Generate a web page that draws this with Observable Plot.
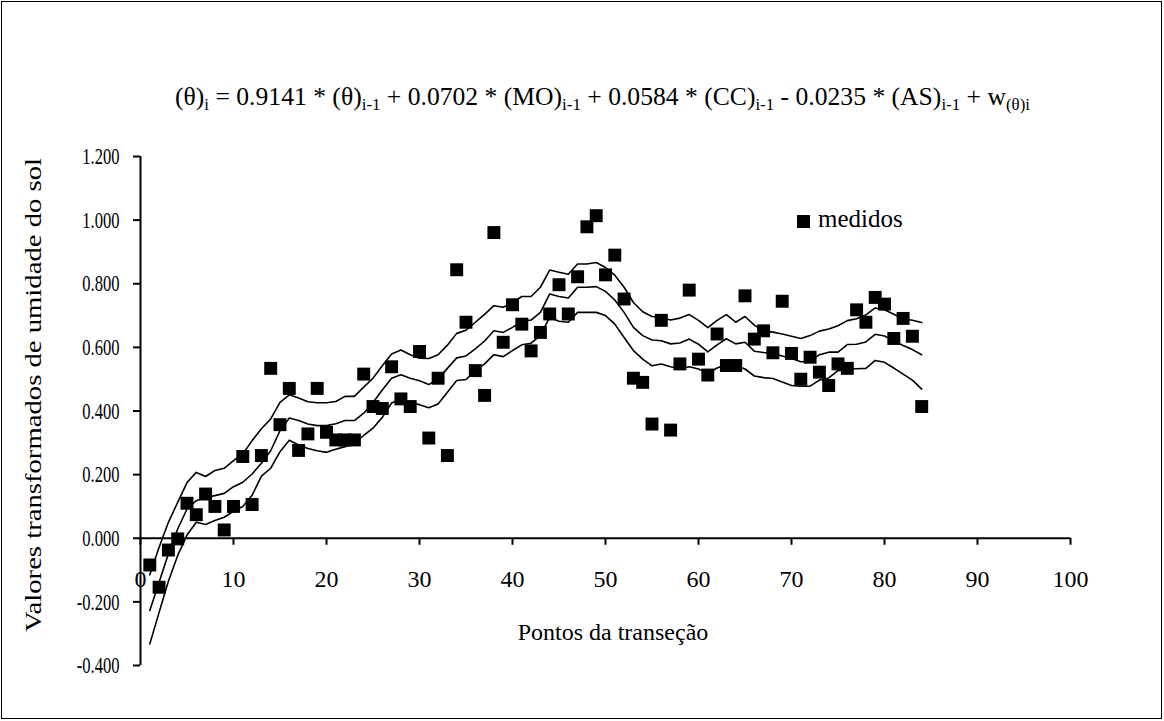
<!DOCTYPE html>
<html>
<head>
<meta charset="utf-8">
<script src="https://cdn.jsdelivr.net/npm/d3@7"></script>
<script src="https://cdn.jsdelivr.net/npm/@observablehq/plot@0.6"></script>
<style>
html, body { margin: 0; padding: 0; background: #fff; }
#wrap { position: relative; width: 1164px; height: 721px; overflow: hidden; background: #fff;
  font-family: "Liberation Serif", "Times New Roman", serif; color: #000; }
#wrap svg { position: absolute; left: 0; top: 0; }
#wrap svg text { font-family: "Liberation Serif", "Times New Roman", serif !important; }
#border { position: absolute; left: 1px; top: 1px; width: 1161px; height: 718px; border: 1px solid #000; box-sizing: border-box; pointer-events: none; }
#title { position: absolute; left: 175px; top: 84px; white-space: nowrap; font-size: 26px; line-height: 26px; transform-origin: 0 0; }
#title sub { font-size: 0.66em; vertical-align: -0.32em; line-height: 0; }
#ylabclip { position: absolute; left: 22px; top: 157px; width: 32px; height: 480px; overflow: hidden; }
#ylab { position: absolute; left: 0; top: 0; white-space: nowrap; font-size: 23px; line-height: 24px; transform-origin: 0 0; }
#xlab { position: absolute; left: 0; width: 1226px; top: 619px; text-align: center; font-size: 24px; line-height: 26px; white-space: nowrap; }
#legmark { position: absolute; left: 797px; top: 215px; width: 13px; height: 13px; background: #000; }
#legtext { position: absolute; left: 818px; top: 206px; font-size: 25px; line-height: 26px; white-space: nowrap; }
</style>
</head>
<body>
<div id="wrap">
  <div id="title">(θ)<sub>i</sub> = 0.9141 * (θ)<sub>i-1</sub> + 0.0702 * (MO)<sub>i-1</sub> + 0.0584 * (CC)<sub>i-1</sub> - 0.0235 * (AS)<sub>i-1</sub> + w<sub>(θ)i</sub></div>
  <div id="ylabclip"><div id="ylab"></div></div>
  <div id="xlab"></div>
  <div id="legmark"></div>
  <div id="legtext"></div>
  <div id="border"></div>
</div>
<script>
// ---- data ----
const pontos = [1,2,3,4,5,6,7,8,9,10,11,12,13,14,15,16,17,18,19,20,21,22,23,24,25,26,27,28,29,30,
  31,32,33,34,35,36,37,38,39,40,41,42,43,44,45,46,47,48,49,50,51,52,53,54,55,56,57,58,59,60,
  61,62,63,64,65,66,67,68,69,70,71,72,73,74,75,76,77,78,79,80,81,82,83,84];

const medidos = [-0.084,-0.154,-0.037,-0.002,0.110,0.074,0.139,0.100,0.026,0.100,
  0.257,0.106,0.260,0.534,0.357,0.471,0.276,0.328,0.471,0.333,
  0.309,0.309,0.309,0.516,0.414,0.408,0.539,0.438,0.414,0.587,
  0.315,0.503,0.260,0.844,0.679,0.527,0.449,0.961,0.616,0.734,
  0.673,0.589,0.647,0.705,0.797,0.705,0.822,0.979,1.014,0.828,
  0.890,0.752,0.503,0.490,0.359,0.685,0.340,0.548,0.780,0.563,
  0.513,0.642,0.543,0.543,0.762,0.626,0.652,0.583,0.745,0.581,
  0.500,0.569,0.522,0.480,0.548,0.534,0.718,0.679,0.757,0.736,
  0.628,0.691,0.635,0.414];

const superior = [-0.115,-0.028,0.050,0.113,0.175,0.207,0.194,0.213,0.220,0.244,
  0.265,0.307,0.344,0.375,0.427,0.451,0.441,0.429,0.426,0.426,
  0.430,0.446,0.446,0.475,0.503,0.542,0.579,0.592,0.577,0.566,
  0.565,0.577,0.607,0.644,0.654,0.679,0.704,0.731,0.726,0.741,
  0.760,0.760,0.789,0.843,0.836,0.830,0.862,0.862,0.867,0.851,
  0.827,0.789,0.741,0.712,0.697,0.694,0.686,0.692,0.703,0.685,
  0.662,0.685,0.703,0.679,0.697,0.670,0.651,0.648,0.642,0.635,
  0.628,0.637,0.651,0.658,0.668,0.684,0.690,0.702,0.724,0.718,
  0.704,0.690,0.685,0.678];

const estimado = [-0.227,-0.138,-0.049,0.029,0.092,0.118,0.129,0.134,0.141,0.162,
  0.176,0.202,0.236,0.275,0.338,0.378,0.370,0.359,0.354,0.354,
  0.360,0.370,0.370,0.393,0.427,0.466,0.503,0.514,0.503,0.495,
  0.483,0.501,0.534,0.567,0.573,0.595,0.620,0.652,0.647,0.663,
  0.682,0.686,0.710,0.768,0.760,0.755,0.789,0.789,0.791,0.776,
  0.749,0.710,0.663,0.637,0.623,0.621,0.611,0.614,0.626,0.610,
  0.586,0.608,0.627,0.611,0.616,0.588,0.584,0.581,0.573,0.565,
  0.555,0.556,0.577,0.585,0.585,0.609,0.610,0.617,0.641,0.636,
  0.621,0.606,0.593,0.577];

const inferior = [-0.332,-0.233,-0.135,-0.054,0.010,0.050,0.043,0.056,0.066,0.085,
  0.100,0.135,0.195,0.220,0.272,0.308,0.293,0.282,0.275,0.270,
  0.280,0.288,0.298,0.323,0.346,0.380,0.425,0.438,0.426,0.420,
  0.410,0.422,0.459,0.496,0.499,0.527,0.548,0.577,0.571,0.590,
  0.608,0.613,0.637,0.695,0.682,0.679,0.710,0.710,0.710,0.700,
  0.673,0.631,0.590,0.563,0.542,0.548,0.539,0.533,0.539,0.532,
  0.519,0.535,0.546,0.543,0.532,0.510,0.505,0.502,0.491,0.480,
  0.478,0.478,0.497,0.504,0.527,0.531,0.533,0.534,0.559,0.553,
  0.535,0.516,0.497,0.469];

const xTicks = [0,10,20,30,40,50,60,70,80,90,100];
const yTicks = [-0.4,-0.2,0,0.2,0.4,0.6,0.8,1.0,1.2];

const xLabel = "Pontos da transeção";
const yLabel = "Valores transformados de umidade do solo";
const legendLabel = "medidos";

const serif = "Liberation Serif";

// ---- tables ----
const pts = pontos.map((p, i) => ({x: p, y: medidos[i]}));
const mk = arr => pontos.map((p, i) => ({x: p, y: arr[i]}));

const chart = Plot.plot({
  width: 1164,
  height: 721,
  marginLeft: 140,
  marginRight: 94,
  marginTop: 156,
  marginBottom: 56,
  style: {fontFamily: serif, fontSize: "24px", color: "#000", background: "transparent", overflow: "visible"},
  x: {domain: [0, 100], axis: null},
  y: {domain: [-0.4, 1.2], axis: null},
  marks: [
    Plot.axisY(yTicks, {tickSize: 7, tickPadding: 14, tickFormat: d => d.toFixed(3), fontSize: 24, fontFamily: serif, strokeWidth: 2, label: null, stroke: "#000", fill: "#000"}),
    Plot.ruleX([0], {stroke: "#000", strokeWidth: 2}),
    Plot.ruleY([0], {stroke: "#000", strokeWidth: 2}),
    Plot.ruleX(xTicks, {x: d => d, y1: 0, y2: 0, insetBottom: -7, stroke: "#000", strokeWidth: 2}),
    Plot.text(xTicks, {x: d => d, y: 0, dy: 41, text: d => String(d), fontSize: 24, fontFamily: serif, fill: "#000"}),
    Plot.line(mk(superior), {x: "x", y: "y", stroke: "#000", strokeWidth: 1.6}),
    Plot.line(mk(estimado), {x: "x", y: "y", stroke: "#000", strokeWidth: 1.6}),
    Plot.line(mk(inferior), {x: "x", y: "y", stroke: "#000", strokeWidth: 1.6}),
    Plot.dot(pts, {x: "x", y: "y", symbol: "square", r: 7.3, fill: "#000", stroke: "none"})
  ]
});

const wrap = document.getElementById("wrap");
wrap.insertBefore(chart, wrap.firstChild);
chart.setAttribute("font-family", serif);

// narrow y tick labels like the original
chart.querySelectorAll('g[aria-label="y-axis tick label"] text').forEach(t => {
  const tr = t.getAttribute("transform") || "";
  t.setAttribute("transform", tr + " scale(0.69,1)");
});

// title: fit to original width
const title = document.getElementById("title");
const tw = title.getBoundingClientRect().width;
title.style.transform = `scaleX(${855 / tw})`;

// y label: rotated, stretched along its length, clipped at top as in the original
const ylab = document.getElementById("ylab");
const probe = document.createElement("span");
probe.style.cssText = "position:absolute;visibility:hidden;white-space:nowrap;font-size:23px;font-family:'Liberation Serif',serif;";
probe.textContent = yLabel.slice(0, yLabel.length - 1);
document.body.appendChild(probe);
const pw = probe.getBoundingClientRect().width;
probe.remove();
ylab.textContent = yLabel;
const s = 474 / pw;
ylab.style.transform = `translate(0px, 475px) rotate(-90deg) scale(${s}, 1)`;

document.getElementById("xlab").textContent = xLabel;
document.getElementById("legtext").textContent = legendLabel;
</script>
</body>
</html>
